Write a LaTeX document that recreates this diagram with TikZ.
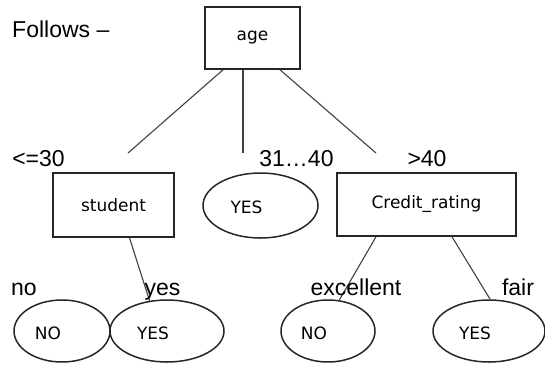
\documentclass[tikz,border=0pt]{standalone}
\usepackage{fontspec}
\setmainfont{Liberation Sans}
\newfontfamily\boxfont{DejaVu Sans}
\usetikzlibrary{shapes.geometric}

\begin{document}
\begin{tikzpicture}[x=1pt, y=-1pt, font=\fontsize{23}{27}\selectfont,
	test/.style={draw=black!85, line width=1.6pt, rectangle, inner sep=0pt, font=\boxfont\fontsize{17}{20}\selectfont},
	leaf/.style={draw=black!85, line width=1.5pt, ellipse, inner sep=0pt, minimum height=62pt},
	leaftext/.style={font=\boxfont\fontsize{17}{20}\selectfont, xshift=-14pt, yshift=-2pt},
	branch/.style={draw=black!75, line width=1.1pt},
	tag/.style={anchor=base, inner sep=0pt}]
	\useasboundingbox (0,0) rectangle (545,364);
	%title
	\node[anchor=base west, inner sep=0pt] (title) at (12,37) {Follows –};
	%tests
	\node[test, minimum width=95pt, minimum height=62pt] (age) at (252.5,38) {age};
	\node[test, minimum width=121pt, minimum height=64pt] (student) at (113.5,205) {student};
	\node[test, minimum width=179pt, minimum height=63pt] (credit) at (426.5,204.5) {Credit\_rating};
	%leaves
	\node[leaf, minimum width=115pt, minimum height=65pt, label={[leaftext]center:YES}] (mid) at (260.5,205.5) {};
	\node[leaf, minimum width=96pt, label={[leaftext]center:NO}] (no1) at (62,331) {};
	\node[leaf, minimum width=114pt, label={[leaftext]center:YES}] (yes1) at (167,331) {};
	\node[leaf, minimum width=94pt, label={[leaftext]center:NO}] (no2) at (328,331) {};
	\node[leaf, minimum width=112pt, label={[leaftext]center:YES}] (yes2) at (489,331) {};
	%branches
	\coordinate (c1) at (128,153);
	\coordinate (c2) at (243,153);
	\coordinate (c3) at (376,153);
	\draw[branch] ([xshift=-29.5pt]age.south) -- (c1);
	\draw[branch] ([xshift=-9.5pt]age.south) -- (c2);
	\draw[branch] ([xshift=27.5pt]age.south) -- (c3);
	\draw[branch] ([xshift=16pt]student.south) -- (yes1.120);
	\draw[branch] ([xshift=-50.5pt]credit.south) -- (no2.70);
	\draw[branch] ([xshift=25.5pt]credit.south) -- (yes2.88);
	%labels
	\node[tag] (le30) at (38.5,166) {<=30};
	\node[tag] (r3140) at (296.5,166) {31…40};
	\node[tag] (gt40) at (427,166) {>40};
	\node[tag] (lno) at (24,295) {no};
	\node[tag] (lyes) at (162.5,295) {yes};
	\node[tag] (lexc) at (356,295) {excellent};
	\node[tag] (lfair) at (518,295) {fair};
\end{tikzpicture}
\end{document}
